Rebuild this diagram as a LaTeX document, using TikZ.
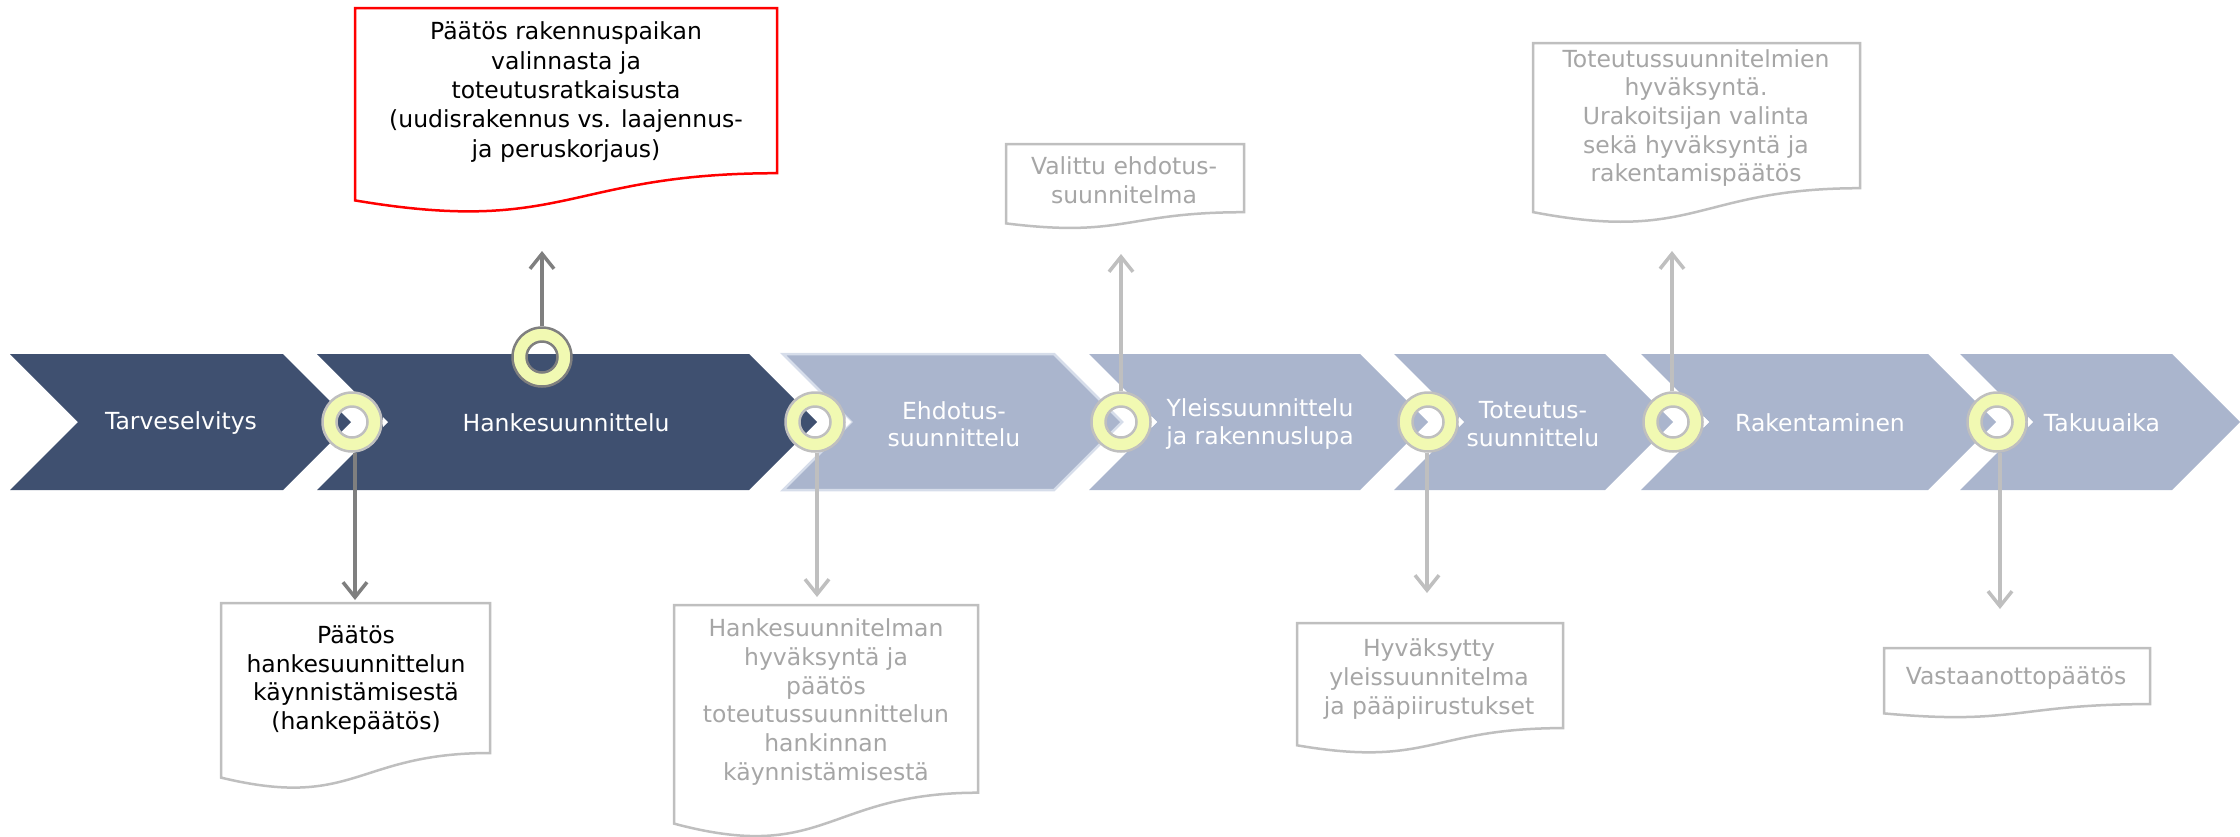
\documentclass[tikz,border=0pt]{standalone}
\usepackage{fontspec}
\setmainfont{DejaVu Sans}
\usetikzlibrary{arrows.meta}
\definecolor{darkchev}{RGB}{63,80,112}
\definecolor{lightchev}{RGB}{170,181,205}
\definecolor{chevedge}{RGB}{214,221,234}
\definecolor{ringfill}{RGB}{241,249,178}
\definecolor{ringdark}{RGB}{127,127,127}
\definecolor{ringlight}{RGB}{191,191,191}
\definecolor{boxgray}{RGB}{191,191,191}
\definecolor{txtgray}{RGB}{166,166,166}
\definecolor{boxred}{RGB}{255,0,0}
\tikzset{
  chevtext/.style={text=white, font=\fontsize{23.5}{27.5}\selectfont, align=center, inner sep=0pt},
  doctext/.style={font=\fontsize{23.5}{28.7}\selectfont, align=center, inner sep=0pt},
  ringnode/.style={circle, minimum size=61pt, inner sep=0pt},
  darkarrow/.style={draw=ringdark, line width=3.5pt, -{Straight Barb[length=15pt,width=24pt]}},
  lightarrow/.style={draw=ringlight, line width=3.5pt, -{Straight Barb[length=15pt,width=24pt]}},
  docred/.style={draw=boxred, line width=2.5pt, fill=white},
  docgray/.style={draw=boxgray, line width=2.5pt, fill=white},
}
\begin{document}
\begin{tikzpicture}[x=1pt,y=-1pt]
\useasboundingbox (0,0) rectangle (2240,836);
% chevrons
\fill[darkchev] (10,354) -- (283,354) -- (351,422) -- (283,490) -- (10,490) -- (78,422) -- cycle;
\fill[darkchev] (317,354) -- (749,354) -- (817,422) -- (749,490) -- (317,490) -- (385,422) -- cycle;
\filldraw[fill=lightchev, draw=chevedge, line width=2.5pt] (783,354) -- (1054,354) -- (1122,422) -- (1054,490) -- (783,490) -- (851,422) -- cycle;
\fill[lightchev] (1089,354) -- (1360,354) -- (1428,422) -- (1360,490) -- (1089,490) -- (1157,422) -- cycle;
\fill[lightchev] (1394,354) -- (1605,354) -- (1673,422) -- (1605,490) -- (1394,490) -- (1462,422) -- cycle;
\fill[lightchev] (1641,354) -- (1928,354) -- (1996,422) -- (1928,490) -- (1641,490) -- (1709,422) -- cycle;
\fill[lightchev] (1960,354) -- (2172,354) -- (2240,422) -- (2172,490) -- (1960,490) -- (2028,422) -- cycle;
% chevron texts
\node[chevtext] (t1) at (181,423) {Tarveselvitys};
\node[chevtext] (t2) at (566,423) {Hankesuunnittelu};
\node[chevtext] (t3) at (954,424) {Ehdotus-\\suunnittelu};
\node[chevtext] (t4) at (1260,424) {Yleissuunnittelu\\ja rakennuslupa};
\node[chevtext] (t5) at (1533,424) {Toteutus-\\suunnittelu};
\node[chevtext] (t6) at (1820,423) {Rakentaminen};
\node[chevtext] (t7) at (2102,423) {Takuuaika};
% document boxes
\draw[docred] (355,8) -- (777,8) -- (777,173.2) .. controls (566,173.2) and (566,236.1) .. (355,200.4) -- cycle;
\draw[docgray] (221,603) -- (490,603) -- (490,753) .. controls (355.5,753) and (355.5,810.1) .. (221,777.6) -- cycle;
\draw[docgray] (674,605) -- (978,605) -- (978,792.7) .. controls (826,792.7) and (826,864.2) .. (674,823.6) -- cycle;
\draw[docgray] (1006,144) -- (1244,144) -- (1244,212.2) .. controls (1125,212.2) and (1125,238.1) .. (1006,223.4) -- cycle;
\draw[docgray] (1533,43) -- (1860,43) -- (1860,188.2) .. controls (1696.5,188.2) and (1696.5,243.5) .. (1533,212.1) -- cycle;
\draw[docgray] (1297,623) -- (1563,623) -- (1563,728.1) .. controls (1430,728.1) and (1430,768.1) .. (1297,745.3) -- cycle;
\draw[docgray] (1884,648) -- (2150,648) -- (2150,704.1) .. controls (2017,704.1) and (2017,725.5) .. (1884,713.4) -- cycle;
% document texts
\node[doctext, font=\fontsize{23.5}{29.3}\selectfont] (d0) at (566,92) {Päätös rakennuspaikan\\valinnasta ja\\toteutusratkaisusta\\(uudisrakennus vs. laajennus-\\ja peruskorjaus)};
\node[doctext] (d1) at (356,680) {Päätös\\hankesuunnittelun\\käynnistämisestä\\(hankepäätös)};
\node[doctext, text=txtgray] (d2) at (826,702) {Hankesuunnitelman\\hyväksyntä ja\\päätös\\toteutussuunnittelun\\hankinnan\\käynnistämisestä};
\node[doctext, text=txtgray] (d3) at (1124,180) {Valittu ehdotus-\\suunnitelma};
\node[doctext, text=txtgray] (d4) at (1696,118) {Toteutussuunnitelmien\\hyväksyntä.\\Urakoitsijan valinta\\sekä hyväksyntä ja\\rakentamispäätös};
\node[doctext, text=txtgray] (d5) at (1429,679) {Hyväksytty\\yleissuunnitelma\\ja pääpiirustukset};
\node[doctext, text=txtgray] (d6) at (2016,678) {Vastaanottopäätös};
% ring nodes
\node[ringnode] (r0) at (542,357) {};
\node[ringnode] (r1) at (352,422) {};
\node[ringnode] (r2) at (815,422) {};
\node[ringnode] (r3) at (1121,422) {};
\node[ringnode] (r4) at (1428,422) {};
\node[ringnode] (r5) at (1673,422) {};
\node[ringnode] (r6) at (1997,422) {};
% arrow ends
\coordinate (a0) at (542,251);
\coordinate (a1) at (355,600);
\coordinate (a2) at (817,597);
\coordinate (a3) at (1121,254);
\coordinate (a4) at (1427,593);
\coordinate (a5) at (1672,251);
\coordinate (a6) at (2000,609);
% arrows
\draw[darkarrow] (r0.north -| a0) -- (a0);
\draw[darkarrow] (r1.south -| a1) -- (a1);
\draw[lightarrow] (r2.south -| a2) -- (a2);
\draw[lightarrow] (r3.north -| a3) -- (a3);
\draw[lightarrow] (r4.south -| a4) -- (a4);
\draw[lightarrow] (r5.north -| a5) -- (a5);
\draw[lightarrow] (r6.south -| a6) -- (a6);
% rings
\foreach \r/\c in {r0/ringdark, r1/ringlight, r2/ringlight, r3/ringlight, r4/ringlight, r5/ringlight, r6/ringlight}{
  \fill[ringfill, even odd rule] (\r) circle[radius=30pt] (\r) circle[radius=15.5pt];
  \draw[\c, line width=2.5pt] (\r) circle[radius=29.5pt] (\r) circle[radius=15.5pt];
}
% small white markers right of junction rings
\foreach \r in {r1,r2,r3,r4,r5,r6}{
  \fill[white] ([xshift=31pt,yshift=5pt]\r.center) -- ([xshift=36pt]\r.center) -- ([xshift=31pt,yshift=-5pt]\r.center) -- cycle;
}
\end{tikzpicture}
\end{document}
